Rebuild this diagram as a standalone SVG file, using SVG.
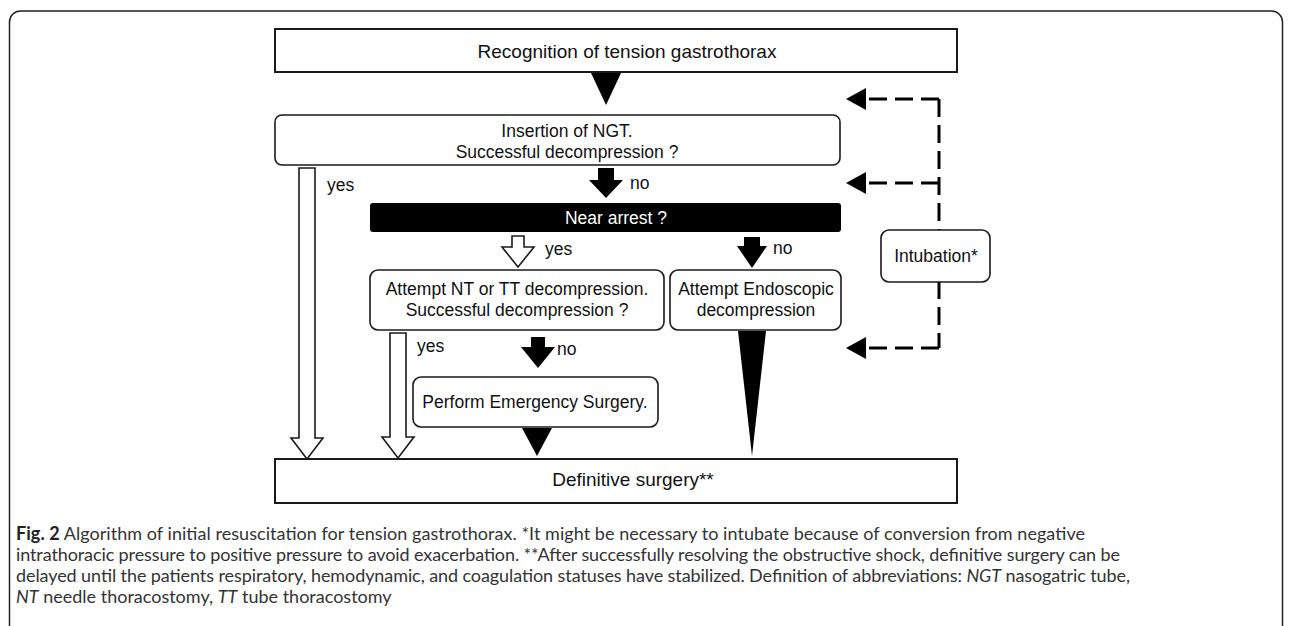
<svg xmlns="http://www.w3.org/2000/svg" width="1292" height="626" viewBox="0 0 1292 626">
<style>
.box{fill:#fff;stroke:#1a1a1a;stroke-width:1.6}
.bigbox{fill:#fff;stroke:#1a1a1a;stroke-width:2}
.t{font-family:"Liberation Sans",Arial,sans-serif;font-size:17.5px;fill:#111;text-anchor:middle}
.tb{font-family:"Liberation Sans",Arial,sans-serif;font-size:19px;fill:#111;text-anchor:middle}
.lbl{font-family:"Liberation Sans",Arial,sans-serif;font-size:17.5px;fill:#111}
.solid{fill:#000;stroke:none}
.hollow{fill:#fff;stroke:#1a1a1a;stroke-width:1.6;stroke-linejoin:miter}
.dash{fill:none;stroke:#000;stroke-width:3;stroke-dasharray:18 8}
.cap{font-family:Lato,"Open Sans",sans-serif;font-size:18px;fill:#333}
</style>
<defs>
<marker id="ah" viewBox="0 0 20 22" refX="0" refY="11" markerWidth="20" markerHeight="22" markerUnits="userSpaceOnUse" orient="auto">
<path d="M0,0 L20,11 L0,22 Z" fill="#000"/>
</marker>
</defs>
<rect x="9.5" y="11" width="1273" height="640" rx="11" fill="#fff" stroke="#222" stroke-width="1.5"/>

<g id="connectors">
<polygon class="solid" points="591,73 621,73 606,105"/>
<polygon class="solid" points="598,168 614,168 614,180 623,180 606,198 589,180 598,180"/>
<polygon class="hollow" points="512,236 524,236 524,247 534,247 518,267 502,247 512,247"/>
<polygon class="solid" points="744,237 760,237 760,246 767,246 752,268 737,246 744,246"/>
<polygon class="hollow" points="299,168 315,168 315,438 323,438 307,459 291,438 299,438"/>
<polygon class="hollow" points="390,333 406,333 406,437 414,437 398,458 382,437 390,437"/>
<polygon class="solid" points="531,337 545,337 545,347 555,347 538,368 521,347 531,347"/>
<polygon class="solid" points="522,428 552,428 537,456"/>
<polygon class="solid" points="738,331 766,331 752,456"/>
<path class="dash" d="M939,99 H866" marker-end="url(#ah)"/>
<path class="dash" d="M939,183 H866" marker-end="url(#ah)"/>
<path class="dash" d="M939,348 H866" marker-end="url(#ah)"/>
<path class="dash" d="M939,99 V348"/>
<text class="lbl" x="327" y="191">yes</text>
<text class="lbl" x="630" y="189">no</text>
<text class="lbl" x="545" y="255">yes</text>
<text class="lbl" x="773" y="254">no</text>
<text class="lbl" x="417" y="352">yes</text>
<text class="lbl" x="557" y="355">no</text>
</g>

<g id="recognition">
<rect class="bigbox" x="275" y="29" width="682" height="43"/>
<text class="tb" x="627" y="58">Recognition of tension gastrothorax</text>
</g>
<g id="ngt">
<rect class="box" x="275" y="115" width="565" height="50" rx="7"/>
<text class="t" x="567" y="137">Insertion of NGT.</text>
<text class="t" x="567" y="158">Successful decompression ?</text>
</g>
<g id="near-arrest">
<rect x="370" y="203" width="471" height="29" rx="3" fill="#000"/>
<text class="t" x="616" y="224" style="fill:#fff">Near arrest ?</text>
</g>
<g id="nt-tt">
<rect class="box" x="370" y="270" width="294" height="60" rx="8"/>
<text class="t" x="517" y="295">Attempt NT or TT decompression.</text>
<text class="t" x="517" y="316">Successful decompression ?</text>
</g>
<g id="endoscopic">
<rect class="box" x="670" y="270" width="171" height="60" rx="8"/>
<text class="t" x="756" y="295">Attempt Endoscopic</text>
<text class="t" x="756" y="316">decompression</text>
</g>
<g id="intubation">
<rect class="box" x="881" y="230" width="109" height="52" rx="8"/>
<text class="t" x="936" y="262">Intubation*</text>
</g>
<g id="emergency">
<rect class="box" x="413" y="377" width="245" height="50" rx="8"/>
<text class="t" x="535" y="408">Perform Emergency Surgery.</text>
</g>
<g id="definitive">
<rect class="bigbox" x="275" y="459" width="682" height="44"/>
<text class="tb" x="633" y="486">Definitive surgery**</text>
</g>

<g id="caption">
<text class="cap" x="16" y="540" textLength="1069" lengthAdjust="spacing"><tspan font-weight="bold" fill="#222">Fig. 2</tspan> Algorithm of initial resuscitation for tension gastrothorax. *It might be necessary to intubate because of conversion from negative</text>
<text class="cap" x="16" y="561" textLength="1104" lengthAdjust="spacing">intrathoracic pressure to positive pressure to avoid exacerbation. **After successfully resolving the obstructive shock, definitive surgery can be</text>
<text class="cap" x="16" y="582" textLength="1114" lengthAdjust="spacing">delayed until the patients respiratory, hemodynamic, and coagulation statuses have stabilized. Definition of abbreviations: <tspan font-style="italic">NGT</tspan> nasogatric tube,</text>
<text class="cap" x="16" y="603"><tspan font-style="italic">NT</tspan> needle thoracostomy, <tspan font-style="italic">TT</tspan> tube thoracostomy</text>
</g>
</svg>
